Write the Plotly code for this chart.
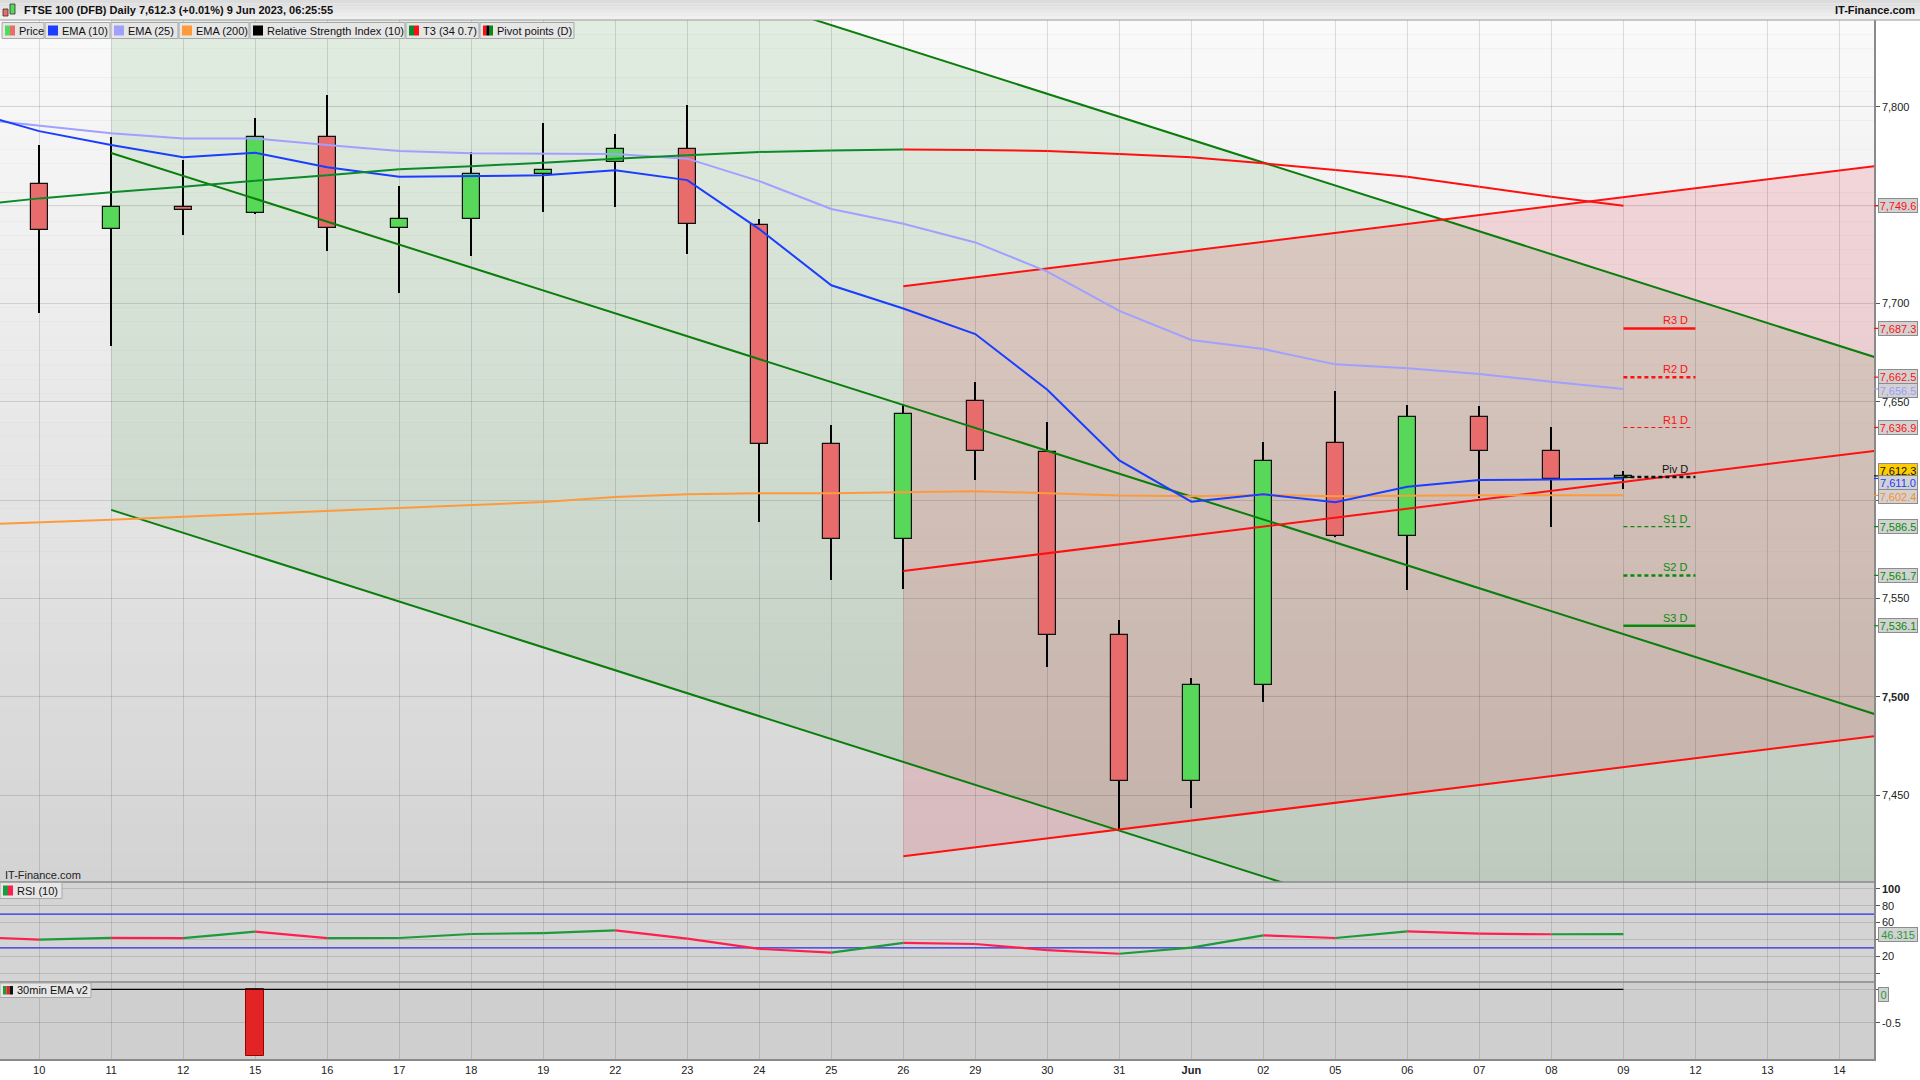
import plotly.graph_objects as go

# ---------------- data ----------------
day_labels = ["10", "11", "12", "15", "16", "17", "18", "19", "22", "23", "24", "25", "26",
              "29", "30", "31", "Jun", "02", "05", "06", "07", "08", "09", "12", "13", "14"]

candle_open = [7760.5, 7737.7, 7748.8, 7745.8, 7784.4, 7738.2, 7742.8, 7765.6, 7771.7, 7778.3,
               7740.1, 7628.4, 7580.3, 7650.2, 7624.3, 7531.2, 7457.0, 7505.8, 7628.9, 7581.6,
               7642.0, 7624.8, 7611.0]
candle_high = [7780.5, 7784.6, 7772.9, 7794.3, 7806.0, 7759.7, 7776.8, 7791.7, 7786.1, 7800.9,
               7742.8, 7638.4, 7648.1, 7660.0, 7639.7, 7538.9, 7509.4, 7629.5, 7655.5, 7648.3,
               7647.8, 7637.2, 7614.9]
candle_low = [7695.3, 7678.5, 7734.9, 7745.3, 7726.8, 7705.4, 7724.3, 7746.6, 7749.2, 7725.0,
              7589.1, 7559.6, 7555.0, 7610.2, 7514.9, 7432.7, 7443.6, 7497.5, 7581.1, 7554.3,
              7600.9, 7586.5, 7605.8]
candle_close = [7737.2, 7748.8, 7747.3, 7784.4, 7738.2, 7742.8, 7765.6, 7767.7, 7778.3, 7740.2,
                7628.4, 7580.3, 7643.6, 7625.0, 7531.2, 7457.2, 7505.8, 7619.7, 7581.6, 7642.0,
                7624.8, 7610.9, 7612.3]

# indicator series start one session earlier (9 May), just off the left edge
prior_sessions = 1
ema10 = [7798.0, 7787.6, 7780.5, 7774.3, 7776.6, 7769.2, 7764.4, 7764.6, 7765.1, 7767.7, 7762.7,
         7737.8, 7709.2, 7697.4, 7684.4, 7656.1, 7620.2, 7599.2, 7603.0, 7598.9, 7606.8,
         7610.2, 7610.4, 7611.0]
ema25 = [7794.2, 7790.2, 7786.5, 7783.9, 7783.9, 7780.5, 7777.5, 7776.3, 7776.0, 7776.0, 7773.6,
         7762.2, 7748.0, 7740.5, 7731.0, 7716.2, 7696.2, 7681.4, 7676.8, 7669.0, 7667.0,
         7664.1, 7660.2, 7656.5]
ema200 = [7587.3, 7588.5, 7590.0, 7591.5, 7593.0, 7594.5, 7596.0, 7597.5, 7599.0, 7601.5, 7603.0,
          7603.5, 7603.5, 7604.0, 7604.5, 7603.5, 7602.3, 7602.0, 7602.6, 7602.0, 7602.4,
          7602.5, 7602.4, 7602.4]
t3 = [7749.5, 7753.4, 7756.5, 7759.3, 7762.4, 7765.1, 7768.2, 7769.8, 7771.5, 7773.6, 7775.3,
      7777.0, 7777.8, 7778.3, 7778.0, 7777.5, 7776.0, 7774.3, 7771.2, 7767.8, 7764.4,
      7759.3, 7754.2, 7749.6]
rsi10 = [43.4, 39.7, 41.8, 41.6, 49.3, 41.5, 41.7, 46.5, 47.6, 50.7, 40.9,
         28.8, 24.4, 36.0, 34.6, 27.4, 23.0, 30.3, 44.8, 41.7, 49.5,
         46.8, 46.2, 46.315]
rsi_bands = [70, 30]
ema30min_v2 = [0, 0, 0, 0, -1, 0, 0, 0, 0, 0, 0, 0, 0, 0, 0, 0, 0, 0, 0, 0, 0, 0, 0, 0]

pivot_names = ["R3 D", "R2 D", "R1 D", "Piv D", "S1 D", "S2 D", "S3 D"]
pivot_values = [7687.3, 7662.5, 7636.9, 7611.7, 7586.5, 7561.7, 7536.1]

# hand-drawn channels (anchor session, three parallel levels, slope per session)
green_channel_anchor = 1
green_channel_levels = [7958.0, 7776.5, 7595.0]
green_channel_slope = -11.65
red_channel_anchor = 12
red_channel_levels = [7708.7, 7563.9, 7418.9]
red_channel_slope = 4.53
channel_end = 25.5

title_text = "FTSE 100 (DFB) Daily 7,612.3 (+0.01%) 9 Jun 2023, 06:25:55"

# ---------------- geometry helpers ----------------
W, H = 1920, 1080
ML, MR, MT, MB = 0, 46, 20, 21
PW, PH = W - ML - MR, H - MT - MB
MAIN_BOTTOM_PX, RSI_BOTTOM_PX = 882, 982


def px(x):
    return (x - ML) / PW


def py(y):
    return (H - MB - y) / PH


FONT = "Liberation Sans, Arial, sans-serif"
FS = 11
GREEN_UP = "#58d858"
RED_DN = "#e86c6c"

n = len(candle_close)
cx = list(range(n))
ix = list(range(-prior_sessions, n))

fig = go.Figure()

# ---- candles (wicks then bodies) ----
fig.add_trace(go.Bar(x=cx, base=candle_low, y=[h - l for h, l in zip(candle_high, candle_low)],
                     width=0.022, marker=dict(color="black", line=dict(width=0)),
                     hoverinfo="skip", showlegend=False))
fig.add_trace(go.Bar(x=cx, base=[min(o, c) for o, c in zip(candle_open, candle_close)],
                     y=[abs(c - o) for o, c in zip(candle_open, candle_close)],
                     width=0.236,
                     marker=dict(color=[GREEN_UP if c >= o else RED_DN for o, c in zip(candle_open, candle_close)],
                                 line=dict(color="#111111", width=1.2)),
                     hoverinfo="skip", showlegend=False))

# ---- channel lines ----
for lvl in green_channel_levels:
    fig.add_trace(go.Scatter(x=[green_channel_anchor, channel_end],
                             y=[lvl, lvl + green_channel_slope * (channel_end - green_channel_anchor)],
                             mode="lines", line=dict(color="#0a7d0a", width=2), hoverinfo="skip", showlegend=False))
for lvl in red_channel_levels:
    fig.add_trace(go.Scatter(x=[red_channel_anchor, channel_end],
                             y=[lvl, lvl + red_channel_slope * (channel_end - red_channel_anchor)],
                             mode="lines", line=dict(color="#ff1010", width=2), hoverinfo="skip", showlegend=False))

# ---- EMAs ----
fig.add_trace(go.Scatter(x=ix, y=ema200, mode="lines", line=dict(color="#ff9a3c", width=2), hoverinfo="skip", showlegend=False))
fig.add_trace(go.Scatter(x=ix, y=ema25, mode="lines", line=dict(color="#a0a0ff", width=2), hoverinfo="skip", showlegend=False))
fig.add_trace(go.Scatter(x=ix, y=ema10, mode="lines", line=dict(color="#1a3dff", width=2), hoverinfo="skip", showlegend=False))


def split_updown(xs, ys):
    up_x, up_y, dn_x, dn_y = [], [], [], []
    for i in range(1, len(ys)):
        if ys[i] >= ys[i - 1]:
            up_x += [xs[i - 1], xs[i], None]
            up_y += [ys[i - 1], ys[i], None]
        else:
            dn_x += [xs[i - 1], xs[i], None]
            dn_y += [ys[i - 1], ys[i], None]
    return up_x, up_y, dn_x, dn_y


ux, uy, dx, dy = split_updown(ix, t3)
fig.add_trace(go.Scatter(x=ux, y=uy, mode="lines", line=dict(color="#0b8a2b", width=2), hoverinfo="skip", showlegend=False))
fig.add_trace(go.Scatter(x=dx, y=dy, mode="lines", line=dict(color="#ff1010", width=2), hoverinfo="skip", showlegend=False))

# ---- pivot points ----
pivot_styles = [("#ff1010", 2.5, "solid", 1.0), ("#ff1010", 2.5, "dash", 1.0), ("#ff1010", 1.2, "dash", 0.95),
                ("#111111", 2.5, "dash", 1.0), ("#0a8a0a", 1.2, "dash", 0.95), ("#0a8a0a", 2.5, "dash", 1.0),
                ("#0a8a0a", 2.5, "solid", 1.0)]
last = n - 1
for name, val, (col, wd, dash, ln) in zip(pivot_names, pivot_values, pivot_styles):
    fig.add_trace(go.Scatter(x=[last, last + ln], y=[val, val], mode="lines",
                             line=dict(color=col, width=wd, dash=dash if dash == "solid" else "4px,3px"),
                             hoverinfo="skip", showlegend=False))

# ---- RSI panel ----
for b in rsi_bands:
    fig.add_trace(go.Scatter(x=[-1, 26], y=[b, b], mode="lines", line=dict(color="#2a2ae6", width=1.2),
                             xaxis="x", yaxis="y2", hoverinfo="skip", showlegend=False))
ux, uy, dx, dy = split_updown(ix, rsi10)
fig.add_trace(go.Scatter(x=ux, y=uy, mode="lines", line=dict(color="#1e9a3a", width=2.2),
                         xaxis="x", yaxis="y2", hoverinfo="skip", showlegend=False))
fig.add_trace(go.Scatter(x=dx, y=dy, mode="lines", line=dict(color="#ff1f4f", width=2.2),
                         xaxis="x", yaxis="y2", hoverinfo="skip", showlegend=False))

# ---- 30min EMA v2 panel ----
fig.add_trace(go.Scatter(x=[ix[0], ix[-1]], y=[0, 0], mode="lines", line=dict(color="black", width=1.2),
                         xaxis="x", yaxis="y3", hoverinfo="skip", showlegend=False))
nz = [(x, v) for x, v in zip(ix, ema30min_v2) if v != 0]
fig.add_trace(go.Bar(x=[a for a, _ in nz], y=[b for _, b in nz], width=0.25,
                     marker=dict(color="#e22424", line=dict(color="#9a0000", width=1)),
                     xaxis="x", yaxis="y3", hoverinfo="skip", showlegend=False))

# ---------------- shapes ----------------
shapes = []
NB = 60
for i in range(NB):
    t = (i + 0.5) / NB
    g = int(round(211 + (250 - 211) * t))
    shapes.append(dict(type="rect", xref="x domain", yref="y domain", x0=0, x1=1, y0=i / NB, y1=(i + 1) / NB,
                       fillcolor=f"rgb({g},{g},{g})", line=dict(width=0), layer="below"))
shapes.append(dict(type="rect", xref="x domain", yref="y2 domain", x0=0, x1=1, y0=0, y1=1,
                   fillcolor="#d4d4d4", line=dict(width=0), layer="below"))
shapes.append(dict(type="rect", xref="x domain", yref="y3 domain", x0=0, x1=1, y0=0, y1=1,
                   fillcolor="#cfcfcf", line=dict(width=0), layer="below"))

ga, gl = green_channel_anchor, green_channel_levels
gslope = green_channel_slope * (channel_end - ga)
shapes.append(dict(type="path", xref="x", yref="y", layer="below",
                   path=f"M {ga},{gl[0]} L {channel_end},{gl[0] + gslope} L {channel_end},{gl[-1] + gslope} L {ga},{gl[-1]} Z",
                   fillcolor="rgba(10,128,10,0.10)", line=dict(width=0)))
ra, rl = red_channel_anchor, red_channel_levels
rslope = red_channel_slope * (channel_end - ra)
shapes.append(dict(type="path", xref="x", yref="y", layer="below",
                   path=f"M {ra},{rl[0]} L {channel_end},{rl[0] + rslope} L {channel_end},{rl[-1] + rslope} L {ra},{rl[-1]} Z",
                   fillcolor="rgba(230,0,25,0.12)", line=dict(width=0)))

# title bar
for i in range(6):
    g = int(round(240 - i * 4))
    shapes.append(dict(type="rect", xref="paper", yref="paper", x0=px(0), x1=px(W),
                       y0=py(20 - i * 20 / 6 - 20 / 6), y1=py(20 - i * 20 / 6),
                       fillcolor=f"rgb({g},{g},{g})", line=dict(width=0), layer="above"))
shapes.append(dict(type="line", xref="paper", yref="paper", x0=px(0), x1=px(W), y0=py(20), y1=py(20),
                   line=dict(color="#9a9a9a", width=1), layer="above"))
# icon
shapes.append(dict(type="rect", xref="paper", yref="paper", x0=px(3), x1=px(8), y0=py(16), y1=py(9),
                   fillcolor=RED_DN, line=dict(color="#333", width=0.8), layer="above"))
shapes.append(dict(type="rect", xref="paper", yref="paper", x0=px(10), x1=px(15), y0=py(14), y1=py(4),
                   fillcolor=GREEN_UP, line=dict(color="#333", width=0.8), layer="above"))

# panel separators
for yy in (MAIN_BOTTOM_PX, RSI_BOTTOM_PX):
    shapes.append(dict(type="line", xref="paper", yref="paper", x0=0, x1=1, y0=py(yy), y1=py(yy),
                       line=dict(color="#8a8a8a", width=1.5), layer="above"))

annotations = []

# legend boxes
legend_items = [
    ("Price", 2, 44, [GREEN_UP, RED_DN]),
    ("EMA (10)", 45, 110, ["#1a3dff"]),
    ("EMA (25)", 111, 178, ["#a0a0ff"]),
    ("EMA (200)", 179, 249, ["#ff9a3c"]),
    ("Relative Strength Index (10)", 250, 405, ["#000000"]),
    ("T3 (34 0.7)", 406, 479, ["#0b8a2b", "#ff1010"]),
    ("Pivot points (D)", 480, 574, ["#ff1010", "#000000", "#0a8a0a"]),
]


def legend_box(label, x0, x1, y0, y1, swatch):
    shapes.append(dict(type="rect", xref="paper", yref="paper", x0=px(x0), x1=px(x1), y0=py(y1), y1=py(y0),
                       fillcolor="#e6e6e6", line=dict(color="#a8a8a8", width=1), layer="above"))
    sw = 10.0 / len(swatch)
    for k, c in enumerate(swatch):
        shapes.append(dict(type="rect", xref="paper", yref="paper", x0=px(x0 + 3 + k * sw), x1=px(x0 + 3 + (k + 1) * sw),
                           y0=py(y1 - 3), y1=py(y0 + 3), fillcolor=c, line=dict(width=0), layer="above"))
    annotations.append(dict(xref="paper", yref="paper", x=px(x0 + 15), y=py((y0 + y1) / 2), text=label,
                            xanchor="left", yanchor="middle", showarrow=False,
                            font=dict(family=FONT, size=FS, color="#111")))


for label, x0, x1, sw in legend_items:
    legend_box(label, x0, x1, 22.5, 38.5, sw)
legend_box("RSI (10)", 0, 62, 882.5, 898.5, ["#1e9a3a", "#ff1f4f"])
legend_box("30min EMA v2", 0, 91, 983, 997.5, ["#1e9a3a", "#e22424", "#111111"])

annotations.append(dict(xref="paper", yref="paper", x=px(22), y=py(10), text="<b>" + title_text + "</b>",
                        xanchor="left", yanchor="middle", showarrow=False, font=dict(family=FONT, size=FS, color="#111")))
annotations.append(dict(xref="paper", yref="paper", x=px(1917), y=py(10), text="<b>IT-Finance.com</b>",
                        xanchor="right", yanchor="middle", showarrow=False, font=dict(family=FONT, size=FS, color="#111")))
annotations.append(dict(xref="paper", yref="paper", x=px(3), y=py(875), text="IT-Finance.com",
                        xanchor="left", yanchor="middle", showarrow=False, font=dict(family=FONT, size=FS, color="#222")))

# pivot labels
for name, val, (col, _, _, _) in zip(pivot_names, pivot_values, pivot_styles):
    annotations.append(dict(xref="x", yref="y", x=last + 0.92, y=val, text=name, xanchor="right", yanchor="bottom",
                            yshift=0, showarrow=False, font=dict(family=FONT, size=FS, color=col)))

# right-axis value boxes
value_boxes = [
    (t3[-1], "#ff1010", "#d2d2d2", 0, "y"),
    (pivot_values[0], "#ff1010", "#d2d2d2", 0, "y"),
    (pivot_values[1], "#ff1010", "#d2d2d2", 1, "y"),
    (ema25[-1], "#9a9aff", "#d2d2d2", -2, "y"),
    (pivot_values[2], "#ff1010", "#d2d2d2", 0, "y"),
    (candle_close[-1], "#111111", "#ffcc00", 5, "y"),
    (ema10[-1], "#1a3dff", "#d2d2d2", -4, "y"),
    (ema200[-1], "#ff8a2a", "#d2d2d2", -1, "y"),
    (pivot_values[4], "#0a8a0a", "#d2d2d2", 0, "y"),
    (pivot_values[5], "#0a8a0a", "#d2d2d2", 0, "y"),
    (pivot_values[6], "#0a8a0a", "#d2d2d2", 0, "y"),
]
for val, col, bg, ysh, yr in value_boxes:
    annotations.append(dict(xref="paper", yref=yr, x=1, xshift=4, y=val, yshift=ysh, text=f"{val:,.1f}",
                            xanchor="left", yanchor="middle", showarrow=False, width=38, height=13, align="center",
                            bgcolor=bg, bordercolor="#8c8c8c", borderwidth=1, borderpad=0,
                            font=dict(family=FONT, size=FS, color=col)))
    shapes.append(dict(type="line", xref="paper", yref=yr, x0=1, x1=px(PW + 5), y0=val, y1=val,
                       line=dict(color=col if bg != "#ffcc00" else "#111", width=1.2), layer="above"))

annotations.append(dict(xref="paper", yref="y2", x=1, xshift=4, y=rsi10[-1], text=f"{rsi10[-1]:.3f}",
                        xanchor="left", yanchor="middle", showarrow=False, width=38, height=13,
                        bgcolor="#d2d2d2", bordercolor="#8c8c8c", borderwidth=1, borderpad=0,
                        font=dict(family=FONT, size=FS, color="#1e9a3a")))
annotations.append(dict(xref="paper", yref="y3", x=1, xshift=4, y=ema30min_v2[-1], yshift=-5, text="0",
                        xanchor="left", yanchor="middle", showarrow=False, width=9, height=13,
                        bgcolor="#d2d2d2", bordercolor="#8c8c8c", borderwidth=1, borderpad=0,
                        font=dict(family=FONT, size=FS, color="#1e9a3a")))

grid = "rgba(0,0,0,0.12)"
axis_font = dict(family=FONT, size=FS, color="#222")

main_ticks = [7450, 7500, 7550, 7600, 7650, 7700, 7750, 7800]
main_text = ["7,450", "<b>7,500</b>", "7,550", "", "7,650", "7,700", "", "7,800"]

fig.update_layout(
    width=W, height=H,
    margin=dict(l=ML, r=MR, t=MT, b=MB),
    paper_bgcolor="white", plot_bgcolor="#d4d4d4",
    barmode="overlay", bargap=0, showlegend=False,
    xaxis=dict(domain=[0, 1], range=[-0.544, 25.48], anchor="y3", tickmode="array",
               tickvals=list(range(len(day_labels))),
               ticktext=[("<b>" + d + "</b>") if not d.isdigit() else d for d in day_labels],
               showgrid=True, gridcolor=grid, gridwidth=1, zeroline=False, ticks="", tickfont=axis_font,
               showline=True, linecolor="#8a8a8a", linewidth=1.5, fixedrange=True),
    yaxis=dict(domain=[py(MAIN_BOTTOM_PX), 1], range=[7405.8, 7844.1], side="right", anchor="x",
               tickmode="array", tickvals=main_ticks, ticktext=main_text, showgrid=True, gridcolor=grid,
               zeroline=False, ticks="outside", ticklen=4, tickcolor="#555", tickfont=axis_font,
               showline=True, linecolor="#8a8a8a", linewidth=1.5),
    yaxis2=dict(domain=[py(RSI_BOTTOM_PX), py(MAIN_BOTTOM_PX)], range=[-10.6, 108.3], side="right", anchor="x",
                tickmode="array", tickvals=[0, 20, 40, 60, 80, 100], ticktext=["", "20", "", "60", "80", "<b>100</b>"],
                showgrid=True, gridcolor=grid, zeroline=False, ticks="outside", ticklen=4, tickcolor="#555",
                tickfont=axis_font, showline=True, linecolor="#8a8a8a", linewidth=1.5),
    yaxis3=dict(domain=[0, py(RSI_BOTTOM_PX)], range=[-1.04, 0.11], side="right", anchor="x",
                tickmode="array", tickvals=[-0.5, 0], ticktext=["-0.5", ""], showgrid=True, gridcolor=grid,
                zeroline=False, ticks="outside", ticklen=4, tickcolor="#555", tickfont=axis_font,
                showline=True, linecolor="#8a8a8a", linewidth=1.5),
    shapes=shapes,
    annotations=annotations,
)

fig.write_html("out.html", config={"displayModeBar": False},
               post_script="document.body.style.margin='0px';document.body.style.padding='0px';"
                           "document.body.style.overflow='hidden';")
